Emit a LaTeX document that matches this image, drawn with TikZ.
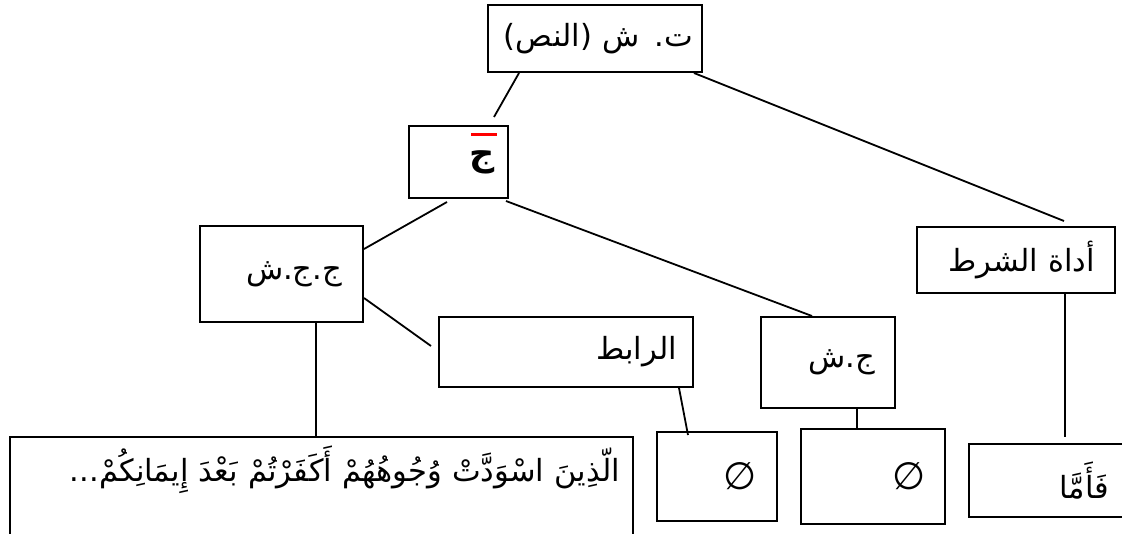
\documentclass[tikz,border=0pt]{standalone}
\usepackage{fontspec}
\newfontfamily\arabicfont[Script=Arabic]{DejaVu Sans}
\TeXXeTstate=1
\usepackage{tikz}
\usetikzlibrary{calc}

\newcommand{\ar}[1]{\mbox{\beginR #1\endR}}

\begin{document}
\begin{tikzpicture}[
  x=1pt, y=-1pt,
  every node/.style={font=\arabicfont\fontsize{30.5}{36}\selectfont},
  box/.style={draw, line width=2pt, inner sep=0pt, align=right},
  link/.style={line width=1.8pt},
  nullset/.style={font=\arabicfont\fontsize{38}{44}\selectfont},
]
\clip (0,0) rectangle (1122,533);

%% Boxes (centres in px, y down)
\node[box, minimum width=214pt, minimum height=67pt, text width=196pt]
  (nass) at (595,38.5) {\ar{ت. ش (النص)}};
\node[box, minimum width=99pt, minimum height=72pt, text width=73pt,
      font=\arabicfont\bfseries\fontsize{35}{40}\selectfont]
  (jim) at (458.5,162) {\ar{ج}};
\node[box, minimum width=163pt, minimum height=96pt, text width=121pt]
  (jjs) at (281.5,274) {\ar{ج.ج.ش}};
\node[box, minimum width=254pt, minimum height=70pt, text width=222pt]
  (rabit) at (566,352) {\ar{الرابط}};
\node[box, minimum width=134pt, minimum height=91pt, text width=94pt]
  (js) at (828,362.5) {\ar{ج.ش}};
\node[box, minimum width=198pt, minimum height=66pt, text width=158pt]
  (adat) at (1016,260) {\ar{أداة الشرط}};
\node[box, minimum width=623pt, text width=597pt, text height=44pt,
      text depth=70pt, anchor=north]
  (verse) at (321.5,436) {\ar{الّذِينَ اسْوَدَّتْ وُجُوهُهُمْ أَكَفَرْتُمْ بَعْدَ إِيمَانِكُمْ...}};
\node[box, nullset, minimum width=120pt, minimum height=89pt, text width=80pt]
  (empty1) at (717,476.5) {∅};
\node[box, nullset, minimum width=144pt, minimum height=95pt, text width=106pt]
  (empty2) at (873,476.5) {∅};
\node[box, minimum width=166pt, minimum height=73pt, text width=114pt]
  (famma) at (1052,480.5) {\ar{فَأَمَّا}};

%% red bar over the jim
\draw[red, line width=3pt] ([xshift=-38pt,yshift=27.5pt]jim.east)
  -- ([xshift=-12pt,yshift=27.5pt]jim.east);

%% Links
\draw[link] ([xshift=32pt]nass.south west) -- ([xshift=86pt,yshift=8pt]jim.north west);
\draw[link] ([xshift=-9pt]nass.south east) -- ([xshift=148pt,yshift=5pt]adat.north west);
\draw[link] ([xshift=39pt,yshift=-3pt]jim.south west) -- ([yshift=25pt]jjs.east);
\draw[link] ([xshift=-3pt,yshift=-2pt]jim.south east) -- ([xshift=52pt]js.north west);
\draw[link] ([yshift=-24pt]jjs.east) -- ([xshift=-7pt,yshift=6pt]rabit.west);
\draw[link] ([xshift=34.5pt]jjs.south) -- ([xshift=-5.5pt]verse.north);
\draw[link] ([xshift=-15pt]rabit.south east) -- ([xshift=32pt,yshift=-4pt]empty1.north west);
\draw[link] ([xshift=29pt]js.south) -- ([xshift=-16pt]empty2.north);
\draw[link] ([xshift=49pt]adat.south) -- ([xshift=13pt,yshift=6pt]famma.north);

\end{tikzpicture}
\end{document}
